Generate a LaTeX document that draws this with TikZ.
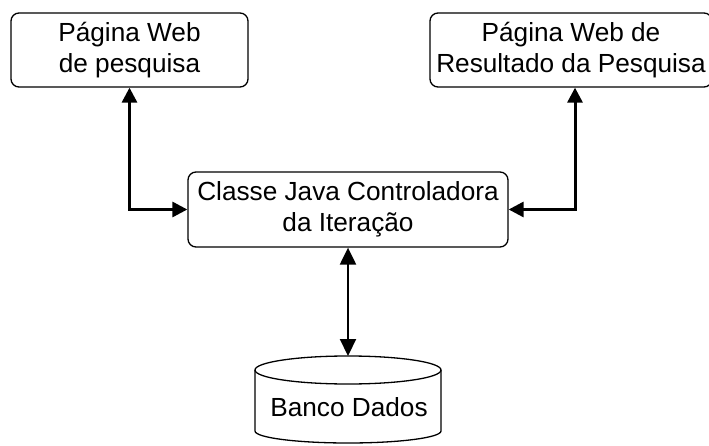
\documentclass[tikz,border=0pt]{standalone}
\usepackage{fontspec}
\setmainfont{Liberation Sans}
\usetikzlibrary{arrows.meta}
\begin{document}
\begin{tikzpicture}[x=1pt,y=-1pt,
  box/.style={draw, line width=1.3pt, rounded corners=8pt, align=center,
    inner sep=0pt, font=\fontsize{26.2}{30.5}\selectfont},
  link/.style={line width=3pt, {Triangle[length=15pt,width=15pt]}-{Triangle[length=15pt,width=15pt]}},
  dblink/.style={line width=2.2pt, {Triangle[length=17pt,width=16pt]}-{Triangle[length=17pt,width=16pt]}},
  lbl/.style={font=\fontsize{26.2}{30.5}\selectfont, inner sep=0pt}]
\useasboundingbox[fill=white] (0,0) rectangle (709,446);

% pages and controller
\node[box, minimum width=237pt, minimum height=74pt] (search) at (129.5,50) {Página Web\\de pesquisa};
\node[box, minimum width=282pt, minimum height=74pt] (result) at (571,50) {Página Web de\\Resultado da Pesquisa};
\node[box, minimum width=320pt, minimum height=75pt] (ctrl) at (348,209.5) {Classe Java Controladora\\da Iteração};

% database cylinder
\draw[line width=1.3pt] (255,370) -- (255,431) arc[start angle=180, end angle=0, x radius=93, y radius=12] -- (441,370);
\draw[line width=1.3pt] (348,370) ellipse[x radius=93, y radius=14];
\coordinate (dbtop) at (348,356);
\node[lbl] (db) at (349,407) {Banco Dados};

% connectors
\draw[link] (search.south) |- (ctrl.west);
\draw[link] ([xshift=4pt]result.south) |- (ctrl.east);
\draw[dblink] (ctrl.south) -- (dbtop);
\end{tikzpicture}
\end{document}
